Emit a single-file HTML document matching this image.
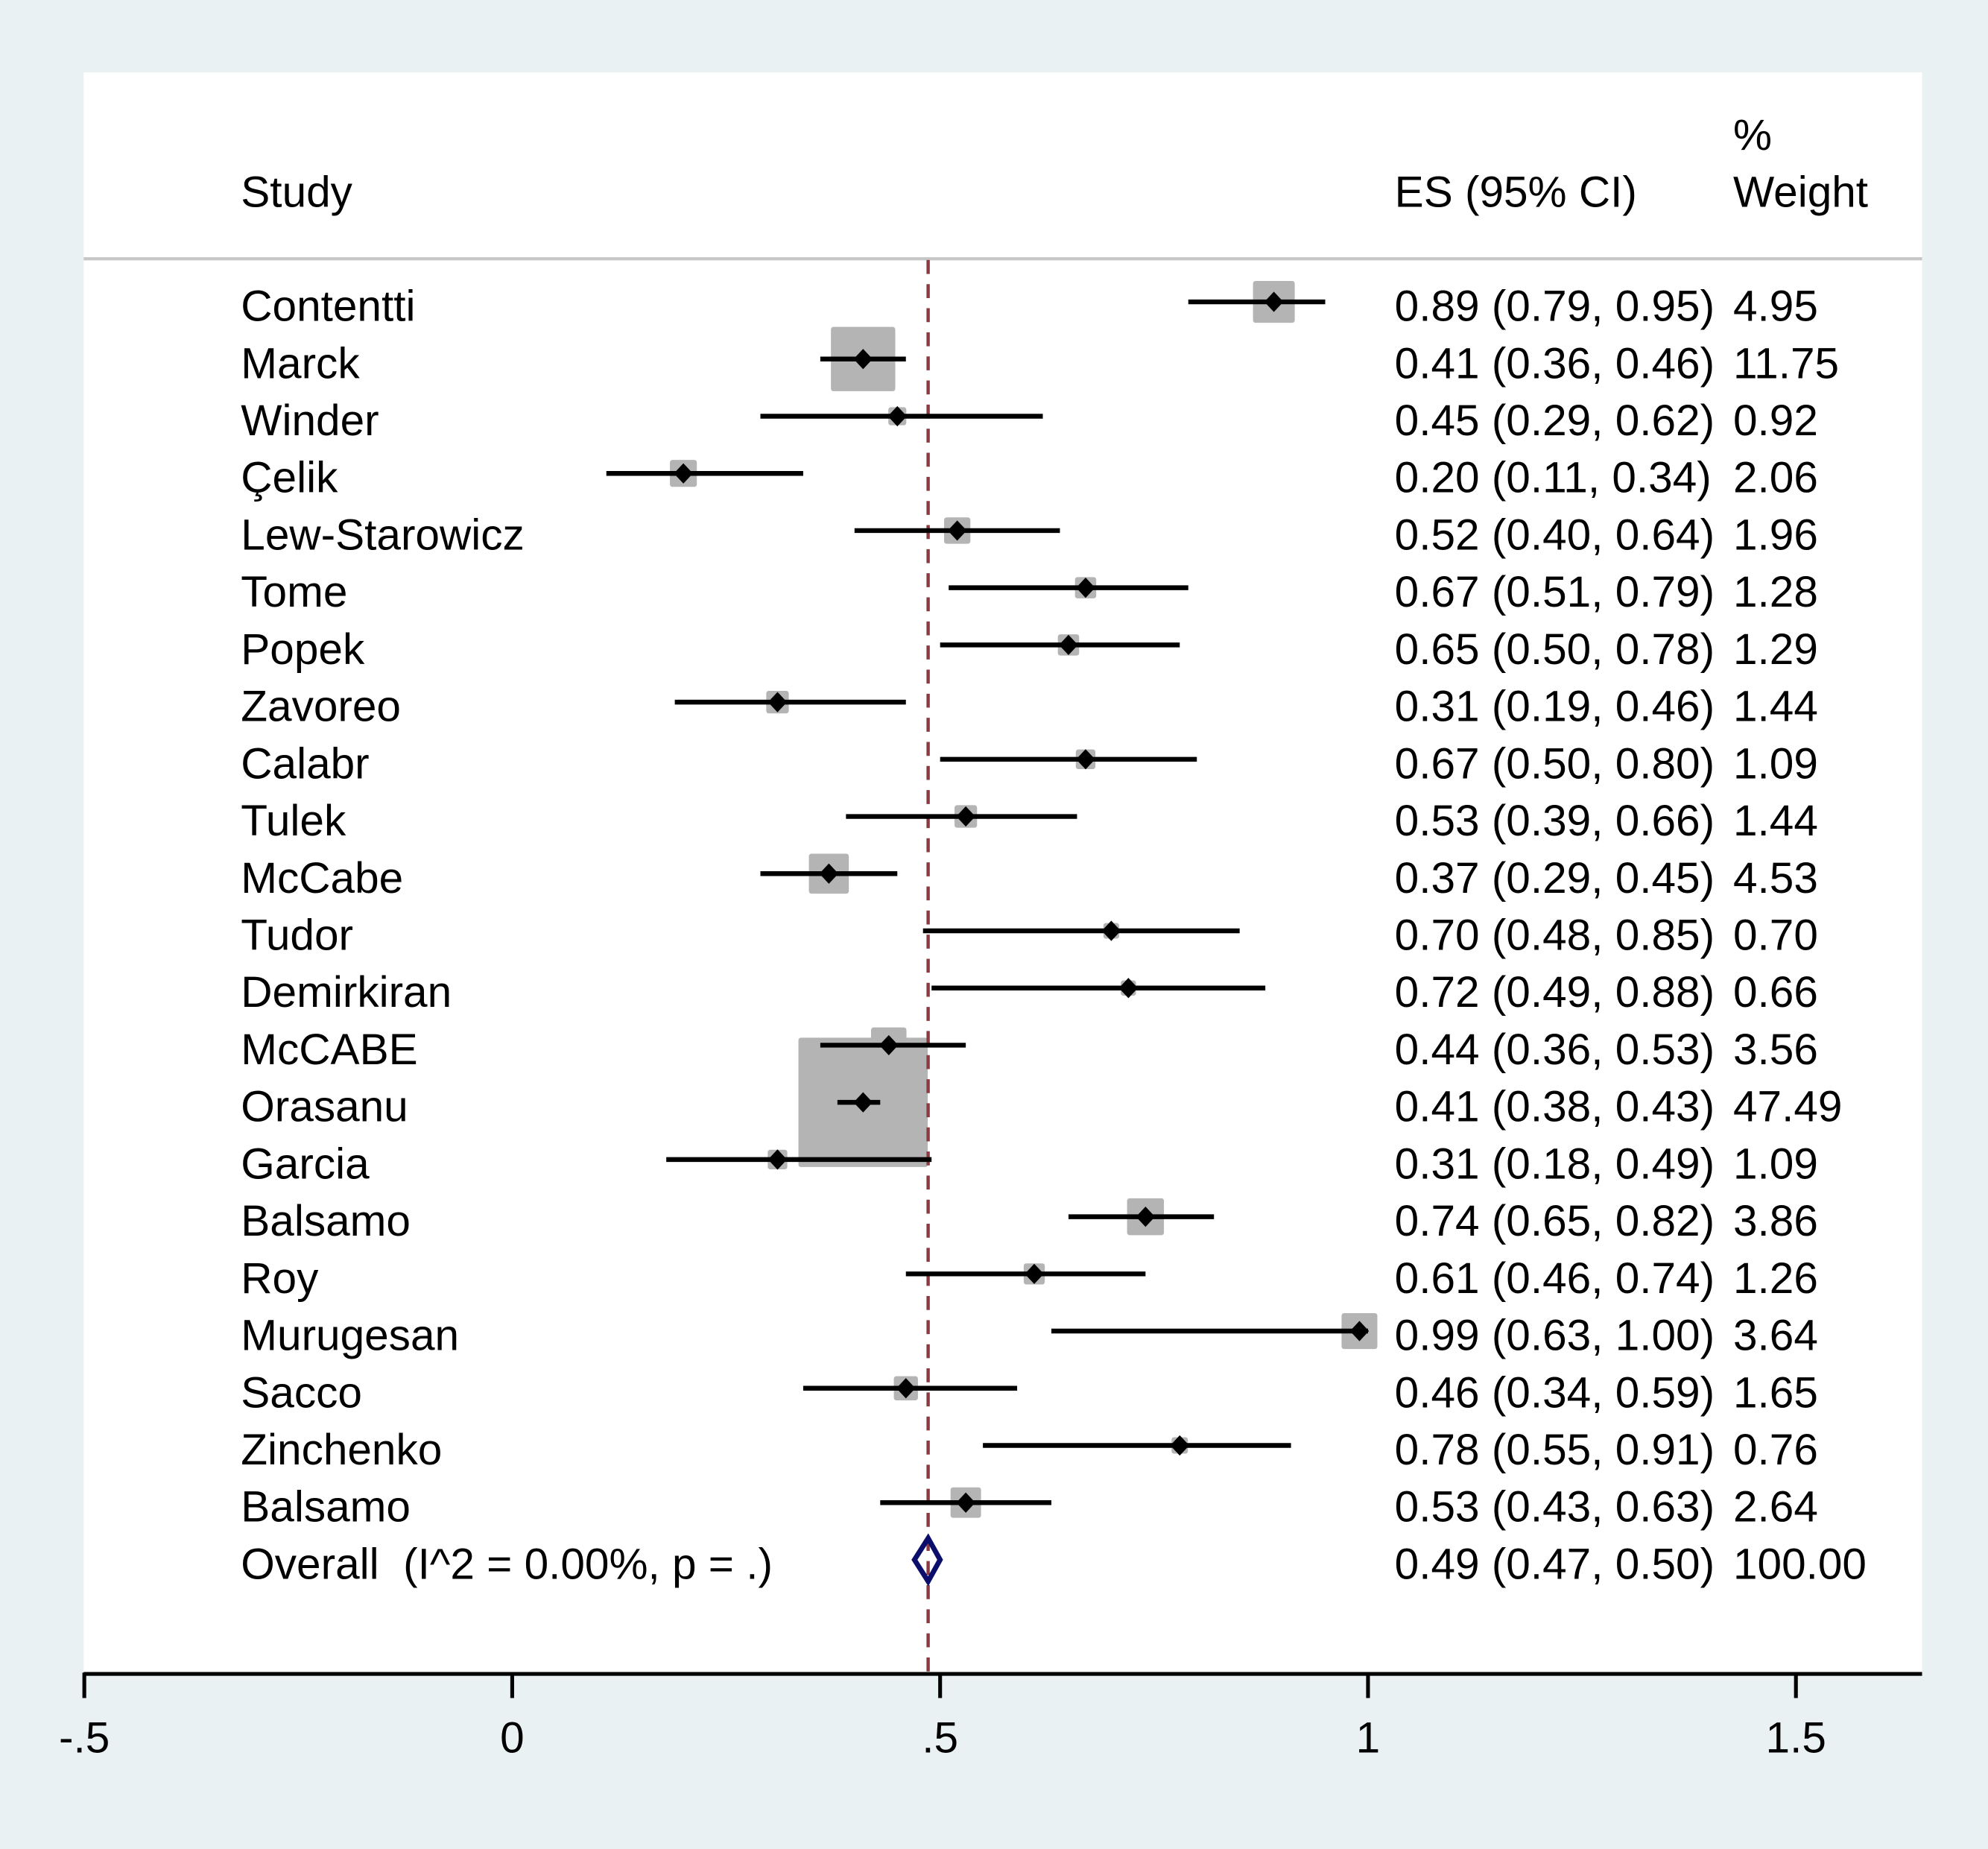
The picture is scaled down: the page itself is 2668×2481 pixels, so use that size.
<!DOCTYPE html>
<html><head><meta charset="utf-8"><style>
html,body{margin:0;padding:0;background:#e9f1f3;}
svg{display:block;}
text{font-family:"Liberation Sans",Arial,sans-serif;fill:#000;white-space:pre;}
</style></head><body>
<svg id="chart" width="2668" height="2481" viewBox="0 0 1568 1458" xmlns="http://www.w3.org/2000/svg">
<rect x="0" y="0" width="1568" height="1458" fill="#e9f1f3"/>
<rect x="66" y="57" width="1450" height="1263" fill="#ffffff"/>
<line x1="66" y1="204" x2="1516" y2="204" stroke="#c6c6c6" stroke-width="2.5"/>
<text x="190" y="163" font-size="34.4">Study</text>
<text x="1100" y="163" font-size="34.4">ES (95% CI)</text>
<text x="1367" y="118" font-size="34.4">%</text>
<text x="1367" y="163" font-size="34.4">Weight</text>
<g id="marks"></g>
<g id="axis"></g>
</svg>
<script>
const studies=["Contentti","Marck","Winder","Çelik","Lew-Starowicz","Tome","Popek","Zavoreo","Calabr","Tulek","McCabe","Tudor","Demirkiran","McCABE","Orasanu","Garcia","Balsamo","Roy","Murugesan","Sacco","Zinchenko","Balsamo"];
const es=[0.89,0.41,0.45,0.20,0.52,0.67,0.65,0.31,0.67,0.53,0.37,0.70,0.72,0.44,0.41,0.31,0.74,0.61,0.99,0.46,0.78,0.53];
const lo=[0.79,0.36,0.29,0.11,0.40,0.51,0.50,0.19,0.50,0.39,0.29,0.48,0.49,0.36,0.38,0.18,0.65,0.46,0.63,0.34,0.55,0.43];
const hi=[0.95,0.46,0.62,0.34,0.64,0.79,0.78,0.46,0.80,0.66,0.45,0.85,0.88,0.53,0.43,0.49,0.82,0.74,1.00,0.59,0.91,0.63];
const weights=[4.95,11.75,0.92,2.06,1.96,1.28,1.29,1.44,1.09,1.44,4.53,0.70,0.66,3.56,47.49,1.09,3.86,1.26,3.64,1.65,0.76,2.64];
const overall={label:"Overall  (I^2 = 0.00%, p = .)",es:0.486,lo:0.47,hi:0.50,text:"0.49 (0.47, 0.50)",w:"100.00"};
const ticks=[-0.5,0,0.5,1,1.5];
const tickLabels=["-.5","0",".5","1","1.5"];

const NS="http://www.w3.org/2000/svg";
const X=v=>404+v*675;
const Y=i=>238+45.09*i;
const FS=34.4;
const marks=document.getElementById('marks');
const axis=document.getElementById('axis');
function mk(tag,attrs,parent){const e=document.createElementNS(NS,tag);for(const k in attrs)e.setAttribute(k,attrs[k]);parent.appendChild(e);return e;}
const f2=v=>v.toFixed(2);
studies.forEach((s,i)=>{
  const side=102*Math.sqrt(weights[i]/47.49);
  const b=mk('rect',{x:X(es[i])-side/2,y:Y(i)-side/2,width:side,height:side,rx:2,fill:'#b4b4b4'},marks);
  
  
});
const dl=mk('line',{x1:X(overall.es),y1:205,x2:X(overall.es),y2:1320,stroke:'#8b3a42','stroke-width':2.6,'stroke-dasharray':'11 8'},marks);


studies.forEach((s,i)=>{
  const y=Y(i);
  const l=mk('line',{x1:X(lo[i]),y1:y,x2:X(hi[i]),y2:y,stroke:'#000','stroke-width':3.8},marks);
  
  
  const cx=X(es[i]);
  const d=mk('polygon',{points:`${cx-7.5},${y} ${cx},${y-8} ${cx+7.5},${y} ${cx},${y+8}`,fill:'#000'},marks);
  
  
  const t=mk('text',{x:190,y:y+15,'font-size':FS},marks);t.textContent=s;
  
  
  const t2=mk('text',{x:1100,y:y+15,'font-size':FS},marks);t2.textContent=`${f2(es[i])} (${f2(lo[i])}, ${f2(hi[i])})`;
  
  
  const t3=mk('text',{x:1367,y:y+15,'font-size':FS},marks);t3.textContent=f2(weights[i]);
  
  
});
const oy=Y(studies.length);
const od=mk('polygon',{points:`${X(overall.lo)},${oy} ${X(overall.es)},${oy-17} ${X(overall.hi)},${oy} ${X(overall.es)},${oy+17}`,fill:'none',stroke:'#0b0f6b','stroke-width':4},marks);


const ol=mk('text',{x:190,y:oy+15,'font-size':FS},marks);ol.textContent=overall.label;


const oe=mk('text',{x:1100,y:oy+15,'font-size':FS},marks);oe.textContent=overall.text;


const ow=mk('text',{x:1367,y:oy+15,'font-size':FS},marks);ow.textContent=overall.w;


const al=mk('line',{x1:66,y1:1320,x2:1516,y2:1320,stroke:'#000','stroke-width':3},axis);


ticks.forEach((v,i)=>{
  const tk=mk('line',{x1:X(v),y1:1319,x2:X(v),y2:1339,stroke:'#000','stroke-width':3},axis);
  
  
  const tl=mk('text',{x:X(v),y:1382,'font-size':FS,'text-anchor':'middle'},axis);tl.textContent=tickLabels[i];
  
  
});
</script>
</body></html>
